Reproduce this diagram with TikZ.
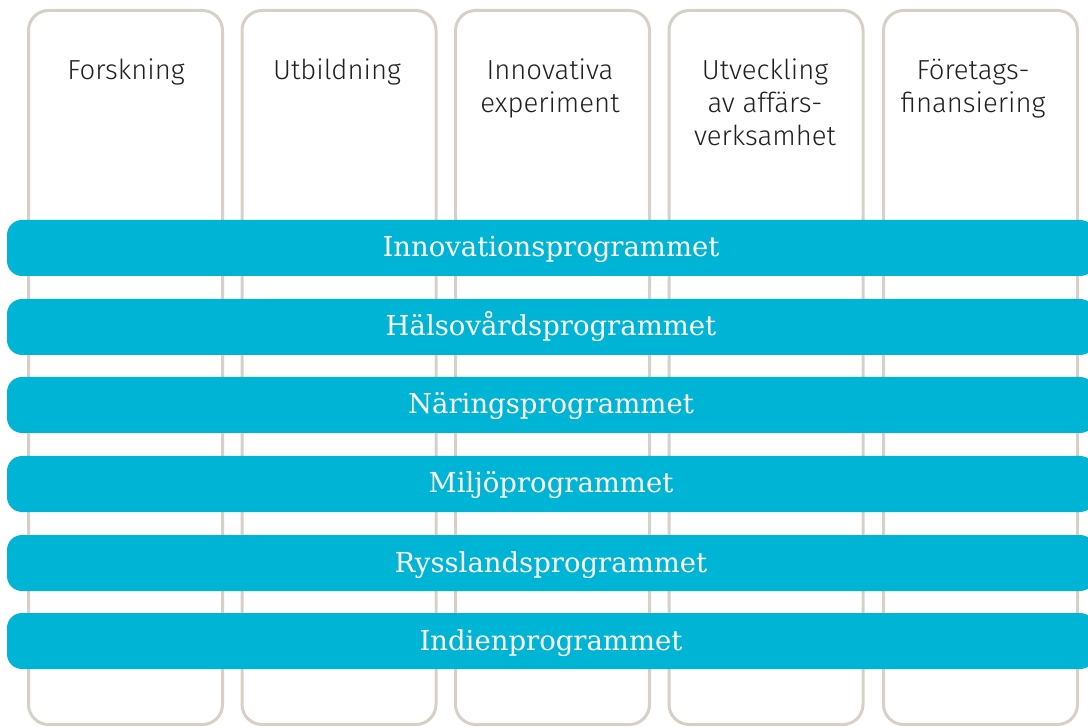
\documentclass[tikz,border=0pt]{standalone}
\usepackage{fontspec}
\newfontfamily\colfont{Fira Sans Light}
\newfontfamily\barfont{DejaVu Serif}
\definecolor{barblue}{HTML}{00B4D6}
\definecolor{colgray}{HTML}{D6D0C7}
\definecolor{txt}{HTML}{231F20}
\tikzset{
  colbox/.style={draw=colgray, line width=3pt, rounded corners=20pt, minimum width=194pt, minimum height=714pt, inner sep=0pt},
  coltext/.style={anchor=base, inner sep=0pt, align=center, text=txt, font=\colfont\fontsize{27.5}{33}\selectfont},
  barbox/.style={fill=barblue, rounded corners=15pt, minimum width=1088pt, minimum height=56pt, inner sep=0pt,
    text=white, font=\barfont\fontsize{27.5}{30}\selectfont, text height=20pt, text depth=2pt}
}
\begin{document}
\begin{tikzpicture}[x=1pt,y=-1pt]
\useasboundingbox (0,0) rectangle (1088,727);
\clip (0,0) rectangle (1088,727);
% columns
\foreach \i/\cx in {1/125.5, 2/339, 3/552.5, 4/766, 5/980.5}{
  \node[colbox] (c\i) at (\cx,367.5) {};
}
% base anchor = baseline of last line
\node[coltext] (t1) at (126,80) {Forskning};
\node[coltext] (t2) at (337,80) {Utbildning};
\node[coltext] (t3) at (550,113) {Innovativa\\experiment};
\node[coltext] (t4) at (765,146) {Utveckling\\av affärs-\\verksamhet};
\node[coltext] (t5) at (973,113) {Företags-\\finansiering};
% bars
\node[barbox] (b1) at (551,248) {Innovationsprogrammet};
\node[barbox] (b2) at (551,327) {Hälsovårdsprogrammet};
\node[barbox] (b3) at (551,405) {Näringsprogrammet};
\node[barbox] (b4) at (551,484) {Miljöprogrammet};
\node[barbox] (b5) at (551,563) {Rysslandsprogrammet};
\node[barbox] (b6) at (551,641) {Indienprogrammet};
\end{tikzpicture}
\end{document}
